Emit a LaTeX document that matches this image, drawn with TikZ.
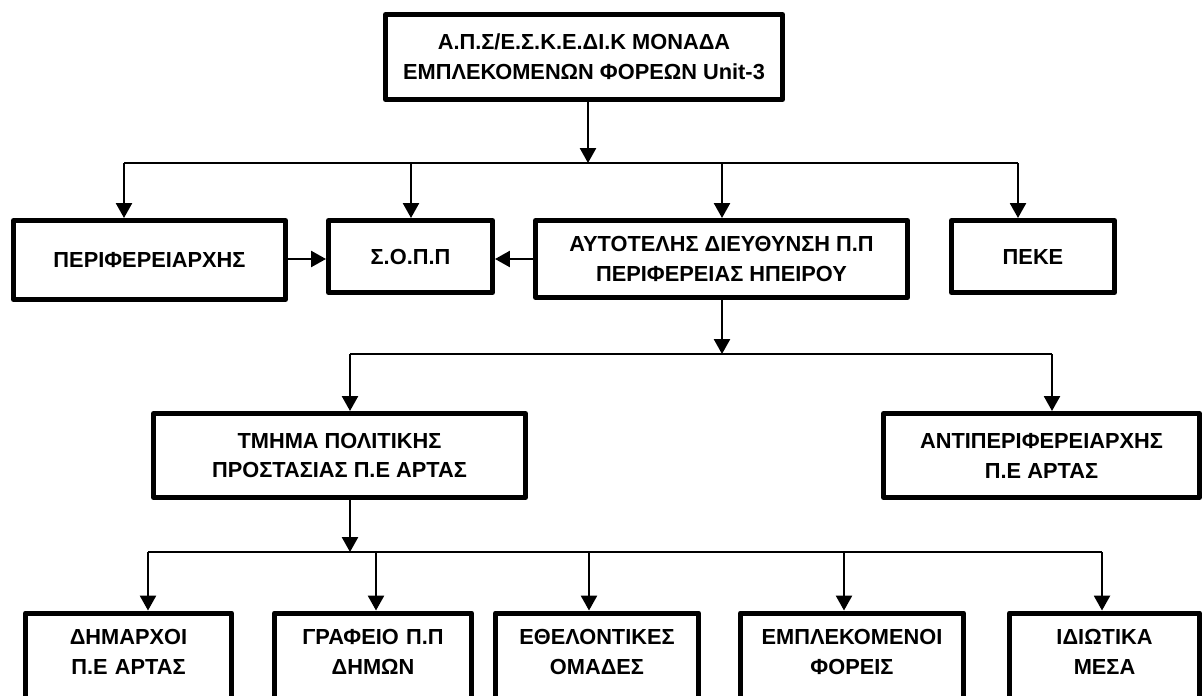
\documentclass[tikz,border=0pt]{standalone}
\usepackage{fontspec}
\setmainfont{Liberation Sans}
\usepackage{tikz}
\usetikzlibrary{arrows.meta,calc}
\tikzstyle{unitbox}=[draw, line width=3.6pt, line join=round, inner sep=0pt, align=center]
\tikzstyle{leafbox}=[unitbox, anchor=north, text height=.385cm, text depth=2cm, inner ysep=.395cm]
\tikzstyle{bus}=[line width=1.4pt]
\tikzstyle{feed}=[line width=1.4pt, -{Triangle[length=.37cm,width=.4cm]}]

\begin{document}
\begin{tikzpicture}[font=\fontsize{15.5}{21.3}\selectfont\bfseries]
	\useasboundingbox (0,0) rectangle (30.075,-17.375);
%
	\node[unitbox, minimum width=9.925cm, minimum height=2.125cm] (unit) at (14.6,-1.425) {Α.Π.Σ/Ε.Σ.Κ.Ε.ΔΙ.Κ ΜΟΝΑΔΑ\\ΕΜΠΛΕΚΟΜΕΝΩΝ ΦΟΡΕΩΝ Unit-3};
%
	\node[unitbox, minimum width=6.8cm, minimum height=1.975cm] (perif) at (3.7375,-6.5) {ΠΕΡΙΦΕΡΕΙΑΡΧΗΣ};
	\node[unitbox, minimum width=4.1cm, minimum height=1.8cm] (sopp) at (10.2625,-6.4125) {Σ.Ο.Π.Π};
	\node[unitbox, minimum width=9.3cm, minimum height=1.925cm] (aut) at (18.0375,-6.475) {ΑΥΤΟΤΕΛΗΣ ΔΙΕΥΘΥΝΣΗ Π.Π\\ΠΕΡΙΦΕΡΕΙΑΣ ΗΠΕΙΡΟΥ};
	\node[unitbox, minimum width=4.075cm, minimum height=1.8cm] (peke) at (25.825,-6.4125) {ΠΕΚΕ};
%
	\node[unitbox, minimum width=9.3cm, minimum height=2.1cm] (tmima) at (8.4875,-11.3875) {ΤΜΗΜΑ ΠΟΛΙΤΙΚΗΣ\\ΠΡΟΣΤΑΣΙΑΣ Π.Ε ΑΡΤΑΣ};
	\node[unitbox, minimum width=7.9cm, minimum height=2.1cm] (antip) at (26.0375,-11.3875) {ΑΝΤΙΠΕΡΙΦΕΡΕΙΑΡΧΗΣ\\Π.Ε ΑΡΤΑΣ};
%
	\node[leafbox, text width=5.15cm] (mayors) at (3.2125,-15.2625) {ΔΗΜΑΡΧΟΙ\\Π.Ε ΑΡΤΑΣ};
	\node[leafbox, text width=4.925cm] (office) at (9.325,-15.2625) {ΓΡΑΦΕΙΟ Π.Π\\ΔΗΜΩΝ};
	\node[leafbox, text width=5.075cm] (volunt) at (14.925,-15.2625) {ΕΘΕΛΟΝΤΙΚΕΣ\\ΟΜΑΔΕΣ};
	\node[leafbox, text width=5.575cm] (agents) at (21.3,-15.2625) {ΕΜΠΛΕΚΟΜΕΝΟΙ\\ΦΟΡΕΙΣ};
	\node[leafbox, text width=4.75cm] (privat) at (27.6125,-15.2625) {ΙΔΙΩΤΙΚΑ\\ΜΕΣΑ};
%
	\coordinate (a0) at (14.7,-4.075);
	\coordinate (a1) at (3.1,-4.075);
	\coordinate (a2) at (10.275,-4.075);
	\coordinate (a3) at (18.05,-4.075);
	\coordinate (a4) at (25.45,-4.075);
	\draw[bus] (a1) -- (a4);
	\draw[feed] (unit.south -| a0) -- (a0);
	\foreach \c/\n in {a1/perif, a2/sopp, a3/aut, a4/peke}
		\draw[feed] (\c) -- (\c |- \n.north);
	\draw[feed] (perif.east |- aut.west) -- (sopp.west |- aut.west);
	\draw[feed] (aut.west) -- (sopp.east |- aut.west);
%
	\coordinate (b0) at (18.05,-8.85);
	\coordinate (b1) at (8.75,-8.85);
	\coordinate (b2) at (26.3,-8.85);
	\draw[bus] (b1) -- (b2);
	\draw[feed] (aut.south -| b0) -- (b0);
	\foreach \c/\n in {b1/tmima, b2/antip}
		\draw[feed] (\c) -- (\c |- \n.north);
%
	\coordinate (c0) at (8.75,-13.8);
	\coordinate (c1) at (3.7,-13.8);
	\coordinate (c2) at (9.4,-13.8);
	\coordinate (c3) at (14.725,-13.8);
	\coordinate (c4) at (21.1,-13.8);
	\coordinate (c5) at (27.55,-13.8);
	\draw[bus] (c1) -- (c5);
	\draw[feed] (tmima.south -| c0) -- (c0);
	\foreach \c/\n in {c1/mayors, c2/office, c3/volunt, c4/agents, c5/privat}
		\draw[feed] (\c) -- (\c |- \n.north);
\end{tikzpicture}
\end{document}
